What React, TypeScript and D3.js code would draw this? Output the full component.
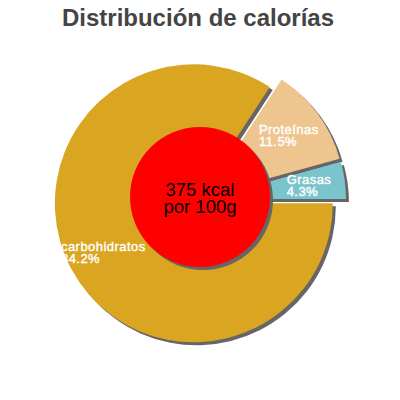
import { arc as d3Arc, pie as d3Pie } from "d3";
import { useMemo } from "react";

const TITLE = "Distribución de calorías";
const CATEGORIES = ["carbohidratos", "Proteínas", "Grasas"];
const VALUES = [84.2, 11.5, 4.3];
const COLORS = ["#DAA520", "#EEC48F", "#7AC5CD"];
const CENTER_LINES = ["375 kcal", "por 100g"];

const WIDTH = 400;
const HEIGHT = 400;
const CX = 200;
const CY = 200;
const RADIUS = 139;
const EXPLODE = 7;
const LABEL_RADIUS = 103;
const HOLE_RADIUS = 70;
const SHADOW = { dx: 3, dy: 3, color: "#666666" };
const FONT = "'Liberation Sans', Arial, Helvetica, sans-serif";
const LABEL_SIZE = 13;
const LABEL_SPACING = 0.45;
const LINE_HEIGHT = 12.5;

type Slice = {
  name: string;
  value: number;
  color: string;
};

const measureCtx = (() => {
  if (typeof document === "undefined") return null;
  return document.createElement("canvas").getContext("2d");
})();

const textWidth = (text: string, font: string) => {
  if (!measureCtx) return text.length * 7;
  measureCtx.font = font;
  return measureCtx.measureText(text).width + text.length * LABEL_SPACING;
};

export default function App() {
  const slices = useMemo<Slice[]>(
    () => CATEGORIES.map((name, i) => ({ name, value: VALUES[i], color: COLORS[i] })),
    [],
  );

  const arcs = useMemo(() => {
    const gen = d3Pie<Slice>()
      .sort(null)
      .value((d) => d.value)
      .startAngle(Math.PI / 2)
      .endAngle(Math.PI / 2 + Math.PI * 2);
    return gen(slices);
  }, [slices]);

  const arcPath = d3Arc<any>().innerRadius(0).outerRadius(RADIUS);
  const total = VALUES.reduce((a, b) => a + b, 0);

  return (
    <svg
      width={WIDTH}
      height={HEIGHT}
      style={{ position: "absolute", left: 0, top: 0, background: "#fff" }}
    >
      <text
        x={WIDTH / 2 - 2}
        y={26}
        textAnchor="middle"
        fontFamily={FONT}
        fontWeight="bold"
        fontSize={24}
        fill="#444444"
      >
        {TITLE}
      </text>
      <g transform={`translate(${CX},${CY})`}>
        {arcs.map((a) => {
          const mid = (a.startAngle + a.endAngle) / 2;
          const ox = Math.sin(mid) * EXPLODE;
          const oy = -Math.cos(mid) * EXPLODE;
          const d = arcPath(a) ?? "";
          return (
            <g key={a.data.name} transform={`translate(${ox},${oy})`}>
              <path d={d} fill={SHADOW.color} transform={`translate(${SHADOW.dx},${SHADOW.dy})`} />
              <path d={d} fill={a.data.color} />
            </g>
          );
        })}
        {arcs.map((a) => {
          const mid = (a.startAngle + a.endAngle) / 2;
          const r = EXPLODE + LABEL_RADIUS;
          const lx = Math.sin(mid) * r;
          const ly = -Math.cos(mid) * r;
          const pct = `${((a.data.value / total) * 100).toFixed(1)}%`;
          const font = `${LABEL_SIZE}px ${FONT}`;
          const w = Math.max(textWidth(a.data.name, font), textWidth(pct, font));
          const x0 = lx - w / 2;
          return (
            <text
              key={`l-${a.data.name}`}
              fontFamily={FONT}
              fontSize={LABEL_SIZE}
              letterSpacing={LABEL_SPACING}
              fill="#ffffff"
              stroke="#ffffff"
              strokeWidth={0.4}
            >
              <tspan x={x0} y={ly - 1.5}>
                {a.data.name}
              </tspan>
              <tspan x={x0} y={ly - 1.5 + LINE_HEIGHT}>
                {pct}
              </tspan>
            </text>
          );
        })}
        <circle cx={SHADOW.dx} cy={SHADOW.dy - 3} r={HOLE_RADIUS} fill={SHADOW.color} />
        <circle cx={0} cy={-3} r={HOLE_RADIUS} fill="#ff0000" />
        <text textAnchor="middle" fontFamily={FONT} fontSize={18.5} fill="#000000">
          <tspan x={0} y={-4}>
            {CENTER_LINES[0]}
          </tspan>
          <tspan x={0} y={13}>
            {CENTER_LINES[1]}
          </tspan>
        </text>
      </g>
    </svg>
  );
}
